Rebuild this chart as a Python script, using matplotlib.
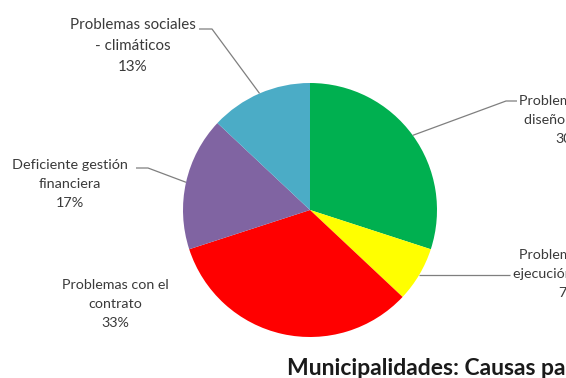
import numpy as np
import matplotlib
matplotlib.use("Agg")
import matplotlib.pyplot as plt

plt.rcParams['font.family'] = ['Lato', 'DejaVu Sans']

categorias = ["Problemas en el\ndiseño técnico",
              "Problemas en la\nejecución de obra",
              "Problemas con el\ncontrato",
              "Deficiente gestión\nfinanciera",
              "Problemas sociales\n- climáticos"]
porcentajes = [30, 7, 33, 17, 13]
colores = ["#00B050", "#FFFF00", "#FF0000", "#8064A2", "#4BACC6"]
titulo = "Municipalidades: Causas para la paralización de obras"

W, H = 566, 378

fig = plt.figure(figsize=(W / 100, H / 100), dpi=100)
ax = fig.add_axes([0, 0, 1, 1])

cx, cy, r = 310, H - 210, 127
wedges, _ = ax.pie(porcentajes, colors=colores, startangle=90,
                   counterclock=False, center=(cx, cy), radius=r,
                   wedgeprops=dict(linewidth=0))
ax.set_xlim(0, W)
ax.set_ylim(0, H)
ax.set_aspect('equal')
ax.axis('off')

# label anchors (x, y from top), leader path from the label side
pos_etiquetas = [(569, 120), (568, 274), (115, 304), (70, 184), (133, 46)]
tamanos = [10.3, 10.3, 10.3, 10.4, 10.9]
guias = [[(517, 101), (506, 101)],
         [(510, None)],
         [],
         [(136, 168), (148, 168)],
         [(199, 29), (212, 29)]]

gris = "#3a3a3a"
for w, cat, p, (lx, ly), fs, guia in zip(wedges, categorias, porcentajes,
                                         pos_etiquetas, tamanos, guias):
    ax.text(lx, H - ly, f"{cat}\n{p}%", ha='center', va='center',
            fontsize=fs, color=gris, linespacing=1.68)
    if not guia:
        continue
    ang = np.deg2rad((w.theta1 + w.theta2) / 2)
    ex, ey = cx + r * np.cos(ang), cy + r * np.sin(ang)
    xs = [g[0] for g in guia] + [ex]
    ys = [(H - g[1]) if g[1] is not None else ey for g in guia] + [ey]
    ax.plot(xs, ys, color="#7f7f7f", lw=0.9, solid_capstyle='butt')

ax.text(287, H - 375, titulo, ha='left', va='baseline', fontsize=16.5,
        fontweight='bold', color="#1a1a1a")

fig.savefig("out.png", dpi=100, facecolor='white')
